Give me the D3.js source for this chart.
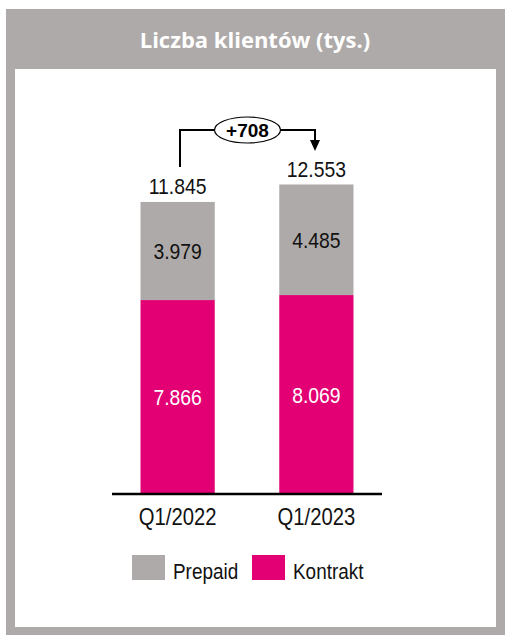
<!DOCTYPE html>
<html><head><meta charset="utf-8">
<script src="https://cdn.jsdelivr.net/npm/d3@7"></script>
<style>body{margin:0;background:#fff}svg{display:block}</style>
</head><body>
<script>
const categories = ["Q1/2022", "Q1/2023"];
const kontrakt = [7866, 8069];
const prepaid = [3979, 4485];
const totals = [11845, 12553];
const seriesNames = ["Prepaid", "Kontrakt"];
const title = "Liczba klientów (tys.)";
const delta = "+708";

const W = 513, H = 641;
const gray = "#aeaaa9", magenta = "#e20074";
const fmt = v => d3.format(",")(v).replace(/,/g, ".");
const font = "'Liberation Sans', Arial, sans-serif";
const SX = 0.88;

const svg = d3.select("body").append("svg").attr("width", W).attr("height", H);

function narrowText(parent, x, y, txt, size, fill, anchor) {
  const gg = parent.append("g").attr("transform", `translate(${x},${y}) scale(${SX},1)`);
  gg.append("text").attr("text-anchor", anchor || "middle").attr("font-family", font)
    .attr("font-size", size).attr("fill", fill).text(txt);
  return gg;
}

// frame
svg.append("rect").attr("x", 6).attr("y", 9).attr("width", 499).attr("height", 626).attr("fill", gray);
svg.append("rect").attr("x", 15).attr("y", 69).attr("width", 481).attr("height", 558).attr("fill", "#fff");
svg.append("text").attr("x", 255).attr("y", 48).attr("text-anchor", "middle")
  .attr("fill", "#fff").attr("font-family", "'Open Sans', Lato, sans-serif").attr("font-weight", "bold")
  .attr("font-size", 22).text(title);

const xb = d3.scaleBand().domain(categories).range([76, 418]).padding(0.465);
const y = d3.scaleLinear().domain([0, 12553]).range([494, 184.5]);

const stackData = categories.map((c, i) => ({cat: c, Kontrakt: kontrakt[i], Prepaid: prepaid[i]}));
const stack = d3.stack().keys(["Kontrakt", "Prepaid"])(stackData);
const colors = {Kontrakt: magenta, Prepaid: gray};

const g = svg.append("g");
stack.forEach(layer => {
  g.selectAll(null).data(layer).enter().append("rect")
    .attr("x", d => xb(d.data.cat)).attr("width", xb.bandwidth())
    .attr("y", d => y(d[1])).attr("height", d => y(d[0]) - y(d[1]))
    .attr("fill", colors[layer.key]);
  layer.forEach(d => {
    narrowText(g, xb(d.data.cat) + xb.bandwidth() / 2, (y(d[0]) + y(d[1])) / 2 + 8,
      fmt(d.data[layer.key]), 22, layer.key === "Kontrakt" ? "#fff" : "#111");
  });
});
// totals
categories.forEach((c, i) => {
  narrowText(g, xb(c) + xb.bandwidth() / 2, y(totals[i]) - 8, fmt(totals[i]), 22, "#111");
});

// axis
const axis = d3.axisBottom(xb).tickSize(0).tickPadding(14).tickFormat(() => "");
const ax = svg.append("g").attr("transform", "translate(0,494)").call(axis);
ax.select(".domain").remove();
categories.forEach(c => narrowText(svg, xb(c) + xb.bandwidth() / 2, 525, c, 23, "#111"));
svg.append("line").attr("x1", 112).attr("x2", 382).attr("y1", 494).attr("y2", 494).attr("stroke", "#000").attr("stroke-width", 2.5);

// delta arrow
const x1 = 180, x2 = 315, yl = 130;
svg.append("path").attr("d", `M${x1},${y(totals[0]) - 35}V${yl}H${x2}V${141}`)
  .attr("fill", "none").attr("stroke", "#000").attr("stroke-width", 2);
svg.append("path").attr("d", `M${x2 - 5},140L${x2 + 5},140L${x2},151Z`).attr("fill", "#000");
svg.append("ellipse").attr("cx", 247.5).attr("cy", yl).attr("rx", 33).attr("ry", 13)
  .attr("fill", "#fff").attr("stroke", "#000").attr("stroke-width", 1.2);
svg.append("text").attr("x", 247.5).attr("y", yl + 7).attr("text-anchor", "middle")
  .attr("font-family", font).attr("font-weight", "bold").attr("font-size", 19).text(delta);

// legend
const leg = [{n: seriesNames[0], c: gray, x: 132}, {n: seriesNames[1], c: magenta, x: 252}];
const lg = svg.append("g");
leg.forEach(l => {
  lg.append("rect").attr("x", l.x).attr("y", 555).attr("width", 33).attr("height", 25).attr("fill", l.c);
  narrowText(lg, l.x + 41, 579, l.n, 21.5, "#111", "start");
});
</script>
</body></html>
